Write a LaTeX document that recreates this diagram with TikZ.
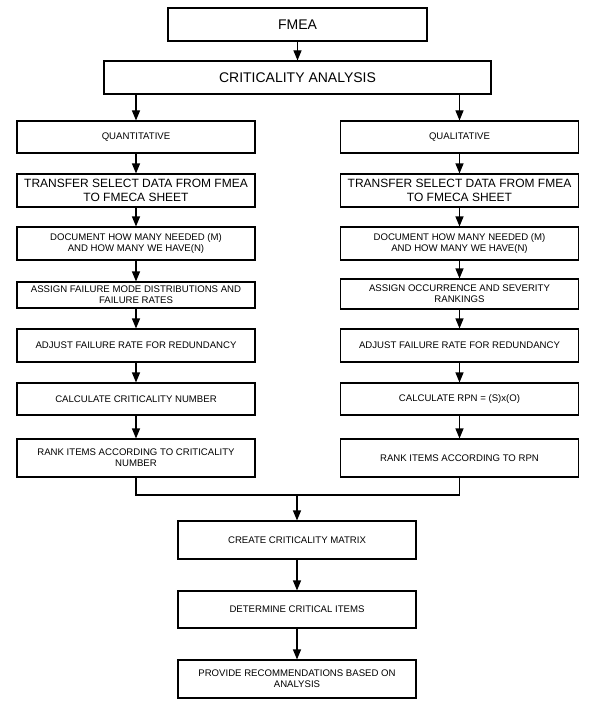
\documentclass[tikz,border=0pt]{standalone}
\usepackage{fontspec}
\setmainfont{Liberation Sans}
\usetikzlibrary{arrows.meta}
\begin{document}
\begin{tikzpicture}[x=1pt,y=-1pt,
 box/.style={draw, line width=1.1pt, inner sep=0pt, align=center, minimum width=238pt},
 small/.style={font=\fontsize{9.6}{11}\selectfont},
 mid/.style={font=\fontsize{12}{14}\selectfont},
 big/.style={font=\fontsize{14}{16}\selectfont},
 arr/.style={line width=1.1pt, -{Triangle[length=10pt,width=8pt]}},
 ln/.style={line width=1.1pt}]
\useasboundingbox[fill=white] (0,0) rectangle (593,706);
\node[box,big,minimum width=259pt,minimum height=33pt] (fmea) at (297.5,24.5) {FMEA};
\node[box,big,minimum width=387pt,minimum height=33pt] (ca) at (297.5,77.5) {CRITICALITY ANALYSIS};
% left column
\node[box,small,minimum height=32pt] (l1) at (136,137) {QUANTITATIVE};
\node[box,mid,minimum height=33pt] (l2) at (136,190.5) {TRANSFER SELECT DATA FROM FMEA\\TO FMECA SHEET};
\node[box,small,minimum height=33pt] (l3) at (136,243.5) {DOCUMENT HOW MANY NEEDED (M)\\AND HOW MANY WE HAVE(N)};
\node[box,small,minimum height=26pt] (l4) at (136,295) {ASSIGN FAILURE MODE DISTRIBUTIONS AND\\FAILURE RATES};
\node[box,small,minimum height=33pt] (l5) at (136,345.5) {ADJUST FAILURE RATE FOR REDUNDANCY};
\node[box,small,minimum height=32pt] (l6) at (136,399) {CALCULATE CRITICALITY NUMBER};
\node[box,small,minimum height=38pt] (l7) at (136,458) {RANK ITEMS ACCORDING TO CRITICALITY\\NUMBER};
% right column
\node[box,small,minimum height=32pt] (r1) at (459.5,137) {QUALITATIVE};
\node[box,mid,minimum height=33pt] (r2) at (459.5,190.5) {TRANSFER SELECT DATA FROM FMEA\\TO FMECA SHEET};
\node[box,small,minimum height=33pt] (r3) at (459.5,243.5) {DOCUMENT HOW MANY NEEDED (M)\\AND HOW MANY WE HAVE(N)};
\node[box,small,minimum height=30pt] (r4) at (459.5,294) {ASSIGN OCCURRENCE AND SEVERITY\\RANKINGS};
\node[box,small,minimum height=33pt] (r5) at (459.5,345.5) {ADJUST FAILURE RATE FOR REDUNDANCY};
\node[box,small,minimum height=32pt] (r6) at (459.5,399) {CALCULATE RPN = (S)x(O)};
\node[box,small,minimum height=38pt] (r7) at (459.5,458) {RANK ITEMS ACCORDING TO RPN};
% bottom column
\node[box,small,minimum height=38pt] (b1) at (297,540) {CREATE CRITICALITY MATRIX};
\node[box,small,minimum height=37pt] (b2) at (297,609.5) {DETERMINE CRITICAL ITEMS};
\node[box,small,minimum height=38pt] (b3) at (297,679) {PROVIDE RECOMMENDATIONS BASED ON\\ANALYSIS};
% connectors
\coordinate (m) at (297,495);
\draw[arr] (fmea.south -| ca.north) -- (ca.north);
\draw[arr] (ca.south -| l1.north) -- (l1.north);
\draw[arr] (ca.south -| r1.north) -- (r1.north);
\foreach \a/\b in {l1/l2,l2/l3,l3/l4,l4/l5,l5/l6,l6/l7,r1/r2,r2/r3,r3/r4,r4/r5,r5/r6,r6/r7,b1/b2,b2/b3}
  \draw[arr] (\a.south) -- (\b.north);
\draw[ln] (l7.south) -- (l7.south |- m) -- (r7.south |- m) -- (r7.south);
\draw[arr] (m) -- (b1.north);
\end{tikzpicture}
\end{document}
